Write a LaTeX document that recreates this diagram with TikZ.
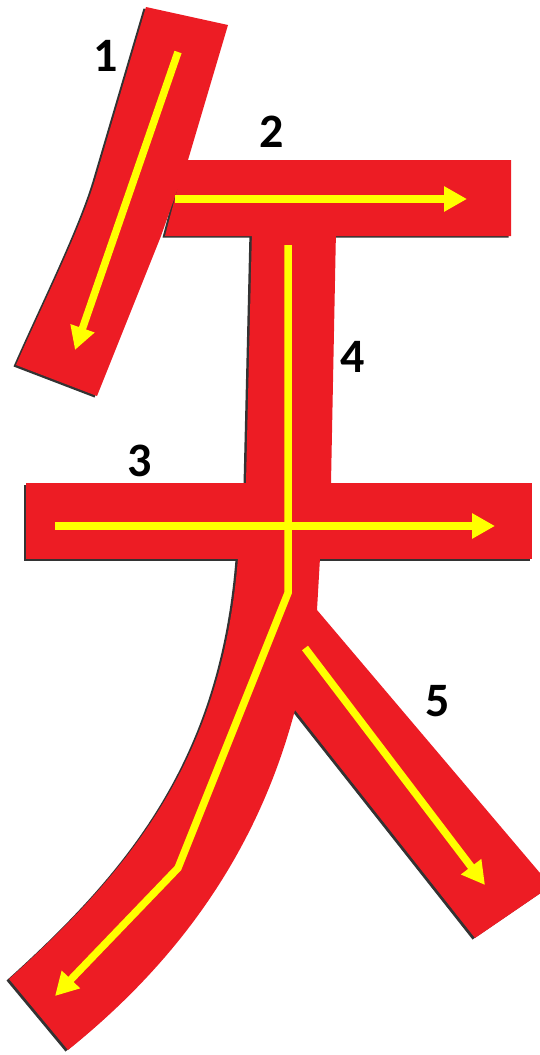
\documentclass[tikz,border=0pt]{standalone}
\usepackage{fontspec}
\setmainfont{Carlito}
\usetikzlibrary{arrows.meta}
\definecolor{strokered}{HTML}{ED1C24}
\definecolor{arrowyellow}{HTML}{FFFF00}
\tikzset{
  strokeshape/.style={fill=strokered, draw=none},
  shadowshape/.style={fill=black!80, draw=none},
  dirarrow/.style={draw=arrowyellow, line width=7.5pt, line join=miter,
    -{Triangle[length=23pt,width=24pt]}},
  numlabel/.style={font=\fontsize{48}{48}\selectfont\bfseries, text=black, inner sep=0pt}
}
\begin{document}
\begin{tikzpicture}[x=1pt,y=-1pt]
\useasboundingbox (0,0) rectangle (540,1055);
\clip (0,0) rectangle (540,1055);
\def\shapeone{(146,7) -- (228,25) -- (188,160) -- (161,236) -- (97,396) -- (16,365) .. controls (40,310) and (80,230) .. (95,180) -- cycle}
\def\shapetwo{(185,160) -- (511,160) -- (511,236) -- (165,236) -- cycle}
\def\shapethree{(26,483) -- (532,483) -- (532,559) -- (26,559) -- cycle}
\def\shapefour{(252,230) -- (336,230) -- (331,483) -- (320,558) -- (317,610) -- (295,710) .. controls (258,850) and (180,960) .. (68,1050) -- (9,979) .. controls (130,870) and (222,760) .. (238,558) -- (246,483) -- cycle}
\def\shapefive{(317,610) -- (551,886) -- (475,938) -- (295,710) -- (290,640) -- cycle}
% shadows
\begin{scope}[shift={(-2.5,1.5)}]
  \fill[shadowshape] \shapeone;
  \fill[shadowshape] \shapetwo;
  \fill[shadowshape] \shapethree;
  \fill[shadowshape] \shapefour;
  \fill[shadowshape] \shapefive;
\end{scope}
% strokes
\fill[strokeshape] \shapeone;
\fill[strokeshape] \shapetwo;
\fill[strokeshape] \shapethree;
\fill[strokeshape] \shapefour;
\fill[strokeshape] \shapefive;
% direction arrows
\coordinate (a1s) at (178,52);
\coordinate (a1e) at (75,350);
\coordinate (a2s) at (175,199);
\coordinate (a2e) at (467,199);
\coordinate (a3s) at (55,526);
\coordinate (a3e) at (495,526);
\coordinate (a4s) at (288,245);
\coordinate (a4b) at (288,593);
\coordinate (a4c) at (178,868);
\coordinate (a4e) at (55,996);
\coordinate (a5s) at (305,648);
\coordinate (a5e) at (485,885);
\draw[dirarrow] (a1s) -- (a1e);
\draw[dirarrow] (a2s) -- (a2e);
\draw[dirarrow] (a3s) -- (a3e);
\draw[dirarrow] (a4s) -- (a4b) -- (a4c) -- (a4e);
\draw[dirarrow] (a5s) -- (a5e);
% numbers
\node[numlabel] (n1) at (106,56) {1};
\node[numlabel] (n2) at (272,132) {2};
\node[numlabel] (n3) at (140,461) {3};
\node[numlabel] (n4) at (353,357) {4};
\node[numlabel] (n5) at (438,701) {5};
\end{tikzpicture}
\end{document}
